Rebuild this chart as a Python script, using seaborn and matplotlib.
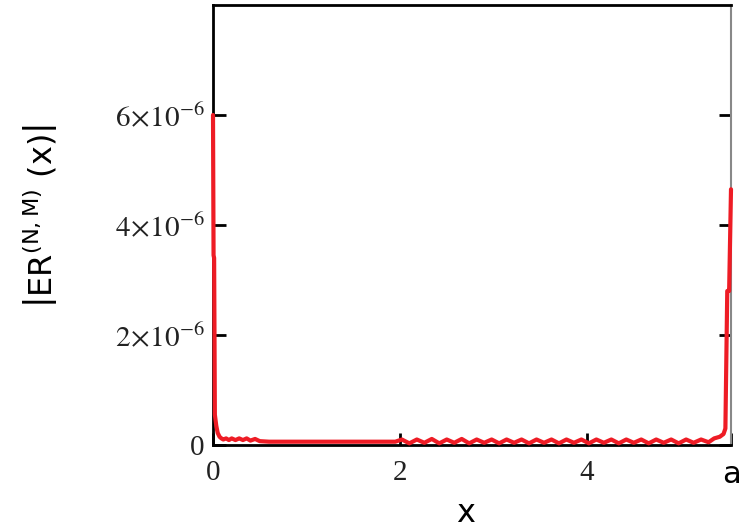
import numpy as np
import pandas as pd
import seaborn as sns
import matplotlib.pyplot as plt

# error curve (y in units of 1e-6)
a = 5.54
x_vals = [0.000, 0.006, 0.012, 0.020, 0.035, 0.05, 0.07, 0.09, 0.11, 0.14,
          0.17, 0.20, 0.24, 0.28, 0.32, 0.36, 0.40, 0.45, 0.50, 0.60,
          0.80, 1.00, 1.20, 1.40, 1.60, 1.80, 1.95, 2.02, 2.10, 2.18,
          2.26, 2.34, 2.42, 2.50, 2.58, 2.66, 2.74, 2.82, 2.90, 2.98,
          3.06, 3.14, 3.22, 3.30, 3.38, 3.46, 3.54, 3.62, 3.70, 3.78,
          3.86, 3.94, 4.02, 4.10, 4.18, 4.26, 4.34, 4.42, 4.50, 4.58,
          4.66, 4.74, 4.82, 4.90, 4.98, 5.06, 5.14, 5.22, 5.30, 5.36,
          5.42, 5.46, 5.48, 5.50, 5.52, 5.54]
err_vals = [6.00, 3.45, 3.40, 0.55, 0.35, 0.22, 0.15, 0.12, 0.10, 0.12,
            0.09, 0.12, 0.09, 0.12, 0.09, 0.12, 0.08, 0.11, 0.07, 0.06,
            0.06, 0.06, 0.06, 0.06, 0.06, 0.06, 0.06, 0.10, 0.03, 0.10,
            0.04, 0.11, 0.03, 0.10, 0.04, 0.11, 0.03, 0.10, 0.04, 0.10,
            0.03, 0.10, 0.04, 0.10, 0.03, 0.10, 0.04, 0.10, 0.03, 0.10,
            0.04, 0.10, 0.03, 0.10, 0.04, 0.10, 0.03, 0.10, 0.04, 0.10,
            0.03, 0.10, 0.04, 0.10, 0.03, 0.10, 0.04, 0.10, 0.05, 0.12,
            0.15, 0.20, 0.30, 2.80, 2.80, 4.65]

ytick_vals = [0, 2, 4, 6]
ytick_labels = ["0", r"$2\!\times\!10^{-6}$", r"$4\!\times\!10^{-6}$", r"$6\!\times\!10^{-6}$"]
xtick_vals = [0, 2, 4, a]
xtick_labels = ["0", "2", "4", "a"]

df = pd.DataFrame({"x": x_vals, "err": np.array(err_vals) * 1e-6})

sns.set_style("white")
fig = plt.figure(figsize=(7.48, 5.31), dpi=100)
ax = fig.add_axes([213 / 748, 1 - 445 / 531, 518 / 748, 440 / 531])

sns.lineplot(data=df, x="x", y="err", color="#ee1c25", linewidth=3, ax=ax,
             estimator=None, sort=False, zorder=3, clip_on=False)

ax.set_xlim(0, a)
ax.set_ylim(0, 8e-6)

for side in ["left", "top", "bottom"]:
    ax.spines[side].set_color("black")
    ax.spines[side].set_linewidth(2)
ax.spines["right"].set_color("#888888")
ax.spines["right"].set_linewidth(1.5)

ax.set_yticks([v * 1e-6 for v in ytick_vals])
ax.set_yticklabels(ytick_labels)
ax.set_xticks(xtick_vals)
ax.set_xticklabels(xtick_labels)
ax.tick_params(axis="y", direction="in", left=True, right=True, length=9,
               width=2, color="black", labelcolor="#222222", pad=6, labelsize=21)
ax.tick_params(axis="x", direction="in", bottom=True, length=9, width=2,
               color="black", labelcolor="#222222", pad=11, labelsize=21)
for lab in ax.get_yticklabels():
    lab.set_fontfamily("Liberation Serif")
    lab.set_math_fontfamily("stix")
for lab in ax.get_xticklabels()[:3]:
    lab.set_fontfamily("Liberation Serif")
ax.get_xticklabels()[3].set_fontfamily("DejaVu Sans")
ax.get_xticklabels()[3].set_fontsize(22)
ax.get_xticklabels()[3].set_color("black")

ax.set_xlabel("x", fontsize=23, fontfamily="DejaVu Sans", color="black")
ax.xaxis.set_label_coords(0.487, -0.12)
ax.set_ylabel(r"$\left|\mathrm{ER}^{\mathrm{(N,M)}}\ \mathrm{(x)}\right|$",
              fontsize=23, math_fontfamily="dejavusans", color="black")
ax.yaxis.set_label_coords(-0.295, 0.52)

fig.savefig("out.png", dpi=100)
